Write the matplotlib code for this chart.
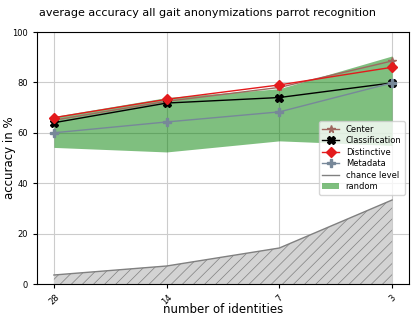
import matplotlib
matplotlib.use("Agg")
import matplotlib.pyplot as plt
import numpy as np

identities = ["28", "14", "7", "3"]
center = [65.0, 72.5, 78.0, 88.5]
classification = [64.0, 71.8, 74.0, 79.8]
distinctive = [66.0, 73.3, 79.0, 86.0]
metadata = [60.0, 64.3, 68.3, 79.8]
random_low = [54.2, 52.4, 56.8, 55.0]
random_high = [66.5, 74.0, 77.5, 90.5]
chance = [100 / 28, 100 / 14, 100 / 7, 100 / 3]

plt.rcParams["hatch.linewidth"] = 0.5
plt.rcParams["hatch.color"] = "gray"

x = np.arange(len(identities))

fig = plt.figure(figsize=(4.15, 3.19), dpi=100)
ax = fig.add_axes([37 / 415, 1 - 284 / 319, (409 - 37) / 415, (284 - 32) / 319])

ax.fill_between(x, 0, chance, facecolor="lightgray", edgecolor="gray", hatch="///", linewidth=0)
ax.plot(x, chance, color="gray", linewidth=1, label="chance level")
ax.fill_between(x, random_low, random_high, color="green", alpha=0.5, linewidth=0, label="random")

ax.plot(x, center, color="#a0675f", marker="*", markersize=5.5, linewidth=1, label="Center")
ax.plot(x, classification, color="black", marker="X", markersize=5.5, linewidth=1, label="Classification")
ax.plot(x, distinctive, color="#e31a1c", marker="D", markersize=5.5, linewidth=1, label="Distinctive")
ax.plot(x, metadata, color="#778899", marker="P", markersize=5.5, linewidth=1, label="Metadata")

ax.set_ylim(0, 100)
ax.set_xticks(x)
ax.set_xticklabels(identities, rotation=45, fontsize=6)
ax.tick_params(axis="y", labelsize=6)
ax.tick_params(length=3)
ax.grid(True, color="#cccccc")
ax.set_axisbelow(True)
ax.set_xlabel("number of identities", fontsize=8.5)
ax.xaxis.set_label_coords(0.5, -0.076)
ax.set_ylabel("accuracy in %", fontsize=8.5)
ax.yaxis.set_label_coords(-0.057, 0.5)
fig.suptitle("average accuracy all gait anonymizations parrot recognition", fontsize=8, y=0.975)

handles, labels = ax.get_legend_handles_labels()
order = ["Center", "Classification", "Distinctive", "Metadata", "chance level", "random"]
hmap = dict(zip(labels, handles))
ax.legend([hmap[o] for o in order], order, loc="center right", fontsize=6,
          handlelength=2, borderpad=0.4, labelspacing=0.3)

fig.savefig("out.png", dpi=100)
